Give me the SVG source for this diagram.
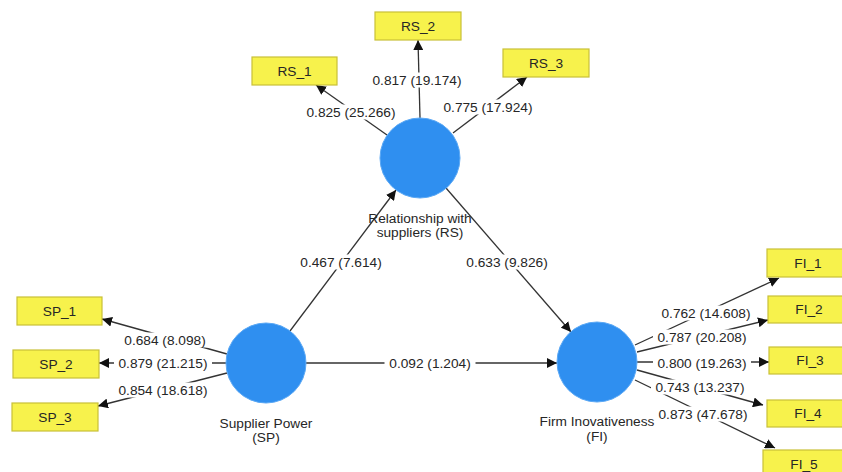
<svg xmlns="http://www.w3.org/2000/svg" width="842" height="472" viewBox="0 0 842 472">
<style>
.bg{fill:#ffffff}
.lv{fill:#2f8ff0;stroke:#5aa8f5;stroke-width:1}
.ind{fill:#f7f24c;stroke:#c8c038;stroke-width:1.2}
.t{font-family:"Liberation Sans",Arial,sans-serif;font-size:13.7px;fill:#262626;text-anchor:middle;dominant-baseline:central}
.lb{fill:#ffffff}
.c{stroke:#333333;stroke-width:1.3;fill:none;marker-end:url(#ah)}
</style>
<defs>
<marker id="ah" viewBox="0 0 10 10" refX="10" refY="5" markerWidth="10" markerHeight="10" markerUnits="userSpaceOnUse" orient="auto">
<path d="M0,0 L10,5 L0,10 z" fill="#111111"/>
</marker>
</defs>
<rect class="bg" x="0" y="0" width="842" height="472"/>
<g id="connectors">
<line class="c" x1="290" y1="331" x2="396" y2="190"/>
<line class="c" x1="446" y1="188" x2="571" y2="332"/>
<line class="c" x1="306" y1="363" x2="557" y2="363"/>
<line class="c" x1="387" y1="135" x2="316" y2="85"/>
<line class="c" x1="420" y1="118" x2="418" y2="40"/>
<line class="c" x1="453" y1="133" x2="527" y2="77"/>
<line class="c" x1="227" y1="354" x2="102" y2="319"/>
<line class="c" x1="227" y1="363" x2="99" y2="363"/>
<line class="c" x1="227" y1="373" x2="98" y2="406"/>
<line class="c" x1="635" y1="345" x2="779" y2="278"/>
<line class="c" x1="637" y1="352" x2="768" y2="320"/>
<line class="c" x1="637" y1="362" x2="769" y2="362"/>
<line class="c" x1="637" y1="370" x2="763" y2="405"/>
<line class="c" x1="635" y1="380" x2="775" y2="448"/>
<rect class="lb" x="295.5" y="254.5" width="91" height="15"/><text class="t" x="341" y="262">0.467 (7.614)</text>
<rect class="lb" x="461.5" y="254.5" width="91" height="15"/><text class="t" x="507" y="262">0.633 (9.826)</text>
<rect class="lb" x="384.5" y="355.5" width="91" height="15"/><text class="t" x="430" y="363">0.092 (1.204)</text>
<rect class="lb" x="302" y="104.5" width="98" height="15"/><text class="t" x="351" y="112">0.825 (25.266)</text>
<rect class="lb" x="368" y="72.5" width="98" height="15"/><text class="t" x="417" y="80">0.817 (19.174)</text>
<rect class="lb" x="439" y="99.5" width="98" height="15"/><text class="t" x="488" y="107">0.775 (17.924)</text>
<rect class="lb" x="119.5" y="332.5" width="91" height="15"/><text class="t" x="165" y="340">0.684 (8.098)</text>
<rect class="lb" x="114" y="355.5" width="98" height="15"/><text class="t" x="163" y="363">0.879 (21.215)</text>
<rect class="lb" x="114" y="382.5" width="98" height="15"/><text class="t" x="163" y="390">0.854 (18.618)</text>
<rect class="lb" x="657" y="305.5" width="98" height="15"/><text class="t" x="706" y="313">0.762 (14.608)</text>
<rect class="lb" x="653" y="329.5" width="98" height="15"/><text class="t" x="702" y="337">0.787 (20.208)</text>
<rect class="lb" x="653" y="355.5" width="98" height="15"/><text class="t" x="702" y="363">0.800 (19.263)</text>
<rect class="lb" x="651" y="379.5" width="98" height="15"/><text class="t" x="700" y="387">0.743 (13.237)</text>
<rect class="lb" x="654" y="406.5" width="98" height="15"/><text class="t" x="703" y="414">0.873 (47.678)</text>
</g>
<g id="RS">
<circle class="lv" cx="420" cy="158" r="40"/>
<text class="t" x="420" y="218">Relationship with</text>
<text class="t" x="420" y="232">suppliers (RS)</text>
</g>
<g id="SP">
<circle class="lv" cx="266" cy="363" r="40"/>
<text class="t" x="266" y="423">Supplier Power</text>
<text class="t" x="266" y="437">(SP)</text>
</g>
<g id="FI">
<circle class="lv" cx="597" cy="362" r="40"/>
<text class="t" x="597" y="421">Firm Inovativeness</text>
<text class="t" x="597" y="436">(FI)</text>
</g>
<g id="RS_1"><rect class="ind" x="252" y="57" width="85" height="28"/><text class="t" x="294.5" y="71">RS_1</text></g>
<g id="RS_2"><rect class="ind" x="375" y="12" width="86" height="28"/><text class="t" x="418" y="26">RS_2</text></g>
<g id="RS_3"><rect class="ind" x="503" y="49" width="86" height="28"/><text class="t" x="546" y="63">RS_3</text></g>
<g id="SP_1"><rect class="ind" x="17" y="297" width="85" height="28"/><text class="t" x="59.5" y="311">SP_1</text></g>
<g id="SP_2"><rect class="ind" x="13" y="350" width="86" height="28"/><text class="t" x="56" y="364">SP_2</text></g>
<g id="SP_3"><rect class="ind" x="12" y="403" width="86" height="28"/><text class="t" x="55" y="417">SP_3</text></g>
<g id="FI_1"><rect class="ind" x="767" y="249" width="86" height="28"/><text class="t" x="808" y="263">FI_1</text></g>
<g id="FI_2"><rect class="ind" x="768" y="296" width="86" height="27"/><text class="t" x="809" y="309.5">FI_2</text></g>
<g id="FI_3"><rect class="ind" x="769" y="347" width="86" height="27"/><text class="t" x="810" y="360.5">FI_3</text></g>
<g id="FI_4"><rect class="ind" x="767" y="400" width="86" height="27"/><text class="t" x="808" y="413.5">FI_4</text></g>
<g id="FI_5"><rect class="ind" x="763" y="450" width="86" height="28"/><text class="t" x="804" y="464">FI_5</text></g>
</svg>
